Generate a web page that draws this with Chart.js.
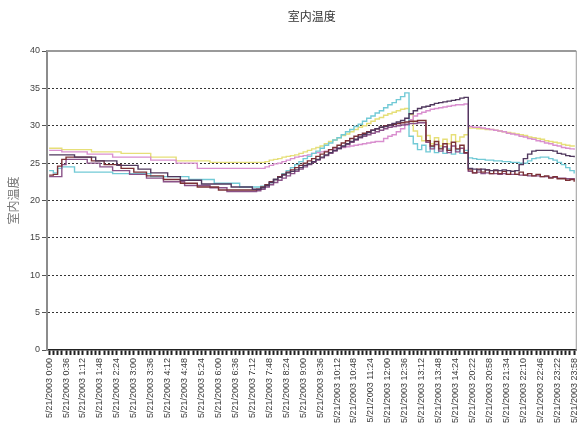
<!DOCTYPE html>
<html><head><meta charset="utf-8">
<script src="https://cdn.jsdelivr.net/npm/chart.js@4.4.1/dist/chart.umd.min.js"></script>
<style>html,body{margin:0;padding:0;background:#fff;overflow:hidden}canvas{display:block}</style>
</head><body>
<canvas id="c" width="588" height="428"></canvas>
<script>
const chartTitle = '室内温度';
const yAxisTitle = '室内温度';
const tickLabels = [
  '5/21/2003 0:00','5/21/2003 0:36','5/21/2003 1:12','5/21/2003 1:48','5/21/2003 2:24','5/21/2003 3:00',
  '5/21/2003 3:36','5/21/2003 4:12','5/21/2003 4:48','5/21/2003 5:24','5/21/2003 6:00','5/21/2003 6:36',
  '5/21/2003 7:12','5/21/2003 7:48','5/21/2003 8:24','5/21/2003 9:00','5/21/2003 9:36','5/21/2003 10:12',
  '5/21/2003 10:48','5/21/2003 11:24','5/21/2003 12:00','5/21/2003 12:36','5/21/2003 13:12','5/21/2003 13:48',
  '5/21/2003 14:24','5/21/2003 20:22','5/21/2003 20:58','5/21/2003 21:34','5/21/2003 22:10','5/21/2003 22:46',
  '5/21/2003 23:22','5/21/2003 23:58'
];
const pointsPerTick = 4;

const seriesNavy = [
  26.1,26.1,26.1,26.1,26.1,26.1,25.8,25.8,25.8,25.8,25.8,25.3,25.3,25.3,25.3,25.3,
  24.7,24.7,24.7,24.7,24.7,24.2,24.2,24.2,23.7,23.7,23.7,23.7,23.2,23.2,23.2,
  22.7,22.7,22.7,22.7,22.7,22.2,22.2,22.2,22.2,22.2,22.2,22.2,21.8,21.8,21.8,21.8,21.8,21.5,21.5,
  21.7,22.0,22.4,22.8,23.1,23.4,23.7,23.9,24.1,24.4,24.7,24.9,25.2,25.5,25.8,26.1,26.4,26.7,27.0,27.3,
  27.6,27.9,28.2,28.5,28.8,29.1,29.4,29.6,29.8,29.9,30.1,30.3,30.5,30.7,31.0,31.6,32.0,32.3,32.5,32.6,
  32.8,33.0,33.1,33.2,33.3,33.4,33.5,33.7,33.8,
  24.3,24.2,24.1,24.2,24.1,24.0,24.1,24.0,24.1,24.0,23.9,24.0,24.8,25.6,26.2,26.6,26.7,26.7,26.7,26.7,
  26.6,26.3,26.2,26.0,25.9,25.8
];
const seriesPink = [
  26.7,26.7,26.7,26.5,26.5,26.5,26.5,26.5,26.5,26.2,26.2,26.2,26.2,26.2,26.2,
  25.8,25.8,25.8,25.8,25.8,25.8,25.8,25.8,25.8,25.4,25.4,25.4,25.4,25.4,25.4,
  25.0,25.0,25.0,25.0,25.0,
  24.3,24.3,24.3,24.3,24.3,24.3,24.3,24.3,24.3,24.3,24.3,24.3,24.3,24.3,24.3,24.3,
  24.5,24.7,24.9,25.0,25.2,25.4,25.6,25.8,25.9,26.0,26.1,26.3,26.4,26.5,26.6,26.8,26.9,27.0,27.1,27.2,
  27.3,27.4,27.5,27.6,27.7,27.8,27.9,27.9,28.3,28.6,28.8,29.2,29.6,30.1,30.8,31.3,31.6,31.8,32.0,32.2,
  32.3,32.4,32.5,32.6,32.7,32.8,32.8,32.9,
  29.9,29.8,29.8,29.7,29.6,29.5,29.4,29.3,29.2,29.0,28.9,28.8,28.6,28.5,28.3,28.2,28.0,27.9,27.7,27.6,
  27.4,27.3,27.1,27.0,26.9,26.8
];
const seriesYellow = [
  27.0,27.0,27.0,26.8,26.8,26.8,26.8,26.8,26.8,26.8,26.5,26.5,26.5,26.5,26.5,26.5,26.5,
  26.3,26.3,26.3,26.3,26.3,26.3,26.3,25.8,25.8,25.8,25.8,25.8,25.8,
  25.3,25.3,25.3,25.3,25.3,25.3,25.3,25.3,
  25.1,25.1,25.1,25.1,25.1,25.1,25.1,25.1,25.1,25.1,25.1,25.1,25.1,
  25.2,25.4,25.5,25.6,25.8,25.9,26.0,26.1,26.3,26.5,26.7,26.9,27.1,27.3,27.6,27.9,28.1,28.4,28.7,28.9,
  29.2,29.5,29.8,30.0,30.3,30.6,30.9,31.1,31.4,31.6,31.8,32.0,32.2,32.3,
  31.5,29.3,28.6,28.0,28.7,27.6,28.4,27.3,28.2,27.6,28.8,27.9,28.5,28.8,
  29.7,29.7,29.6,29.6,29.5,29.5,29.4,29.3,29.2,29.1,29.0,28.9,28.8,28.7,28.5,28.4,28.3,28.2,28.0,27.9,
  27.8,27.7,27.5,27.4,27.3,27.2
];
const seriesCyan = [
  24.0,23.7,24.3,24.5,24.5,24.5,23.8,23.8,23.8,23.8,23.8,23.8,23.8,23.8,23.8,
  23.6,23.6,23.6,23.6,23.6,23.6,23.6,23.6,23.6,23.2,23.2,23.2,23.2,23.2,23.2,23.2,23.2,23.2,
  22.8,22.8,22.8,22.8,22.8,22.8,22.3,22.3,22.3,22.3,22.3,22.3,21.8,21.8,21.8,21.8,21.8,
  21.9,22.1,22.4,22.8,23.2,23.6,24.0,24.4,24.8,25.2,25.6,25.9,26.3,26.6,27.0,27.4,27.7,28.1,28.4,28.8,
  29.2,29.5,29.9,30.2,30.6,31.0,31.3,31.7,32.0,32.4,32.8,33.1,33.5,33.9,34.4,
  28.6,27.6,26.8,27.4,26.5,27.2,26.4,27.0,26.3,26.9,26.2,26.8,26.3,26.7,
  25.7,25.6,25.5,25.5,25.4,25.4,25.3,25.3,25.2,25.2,25.1,25.1,25.0,25.0,25.3,25.6,25.7,25.8,25.8,25.6,
  25.4,25.1,24.8,24.4,24.0,23.6
];
const seriesPurple = [
  23.2,23.2,23.2,24.8,25.5,25.5,25.5,25.5,25.5,25.0,25.0,25.0,24.5,24.5,24.5,
  24.0,24.0,24.0,24.0,23.5,23.5,23.5,23.5,23.0,23.0,23.0,23.0,22.5,22.5,22.5,22.5,22.5,
  22.0,22.0,22.0,22.0,22.0,22.0,21.7,21.7,21.7,21.7,21.2,21.2,21.2,21.2,21.2,21.2,21.2,
  21.3,21.5,21.8,22.1,22.4,22.7,23.0,23.3,23.6,23.9,24.2,24.5,24.8,25.1,25.4,25.7,26.0,26.3,26.6,26.9,
  27.2,27.5,27.8,28.1,28.4,28.6,28.8,29.0,29.2,29.4,29.6,29.8,29.9,30.0,30.1,30.2,30.3,30.3,30.4,30.4,
  27.8,26.9,27.5,26.6,27.2,26.4,27.3,26.5,27.0,26.3,
  23.9,23.7,23.8,23.6,23.7,23.6,23.6,23.5,23.6,23.5,23.5,23.5,23.4,23.4,23.3,23.3,23.3,23.2,23.2,23.1,
  23.1,23.0,23.0,22.9,22.9,22.8
];
const seriesMaroon = [
  23.4,23.5,24.6,25.5,25.8,25.8,25.8,25.8,25.8,25.8,25.3,25.3,25.3,24.8,24.8,24.8,24.8,
  24.3,24.3,24.3,23.8,23.8,23.8,23.3,23.3,23.3,23.3,22.8,22.8,22.8,22.8,22.3,22.3,22.3,22.3,
  21.8,21.8,21.8,21.8,21.8,21.4,21.4,21.4,21.4,21.4,21.4,21.4,21.4,21.4,
  21.5,21.8,22.1,22.5,22.8,23.2,23.5,23.8,24.1,24.4,24.7,25.0,25.3,25.6,25.9,26.2,26.5,26.8,27.1,27.4,
  27.7,28.0,28.3,28.6,28.8,29.0,29.2,29.4,29.6,29.8,30.0,30.1,30.2,30.3,30.4,30.5,30.6,30.6,30.7,30.7,
  28.0,27.3,27.9,26.9,27.6,26.7,27.8,26.9,27.4,26.4,
  24.1,23.7,24.2,23.8,24.1,23.6,24.0,23.6,23.9,23.5,23.9,23.5,23.8,23.4,23.6,23.3,23.5,23.2,23.3,23.0,
  23.2,22.9,22.9,22.7,22.8,22.5
];

const categories = [];
for (let i = 0; i < seriesNavy.length; i++) {
  categories.push(i % pointsPerTick === 0 ? tickLabels[i / pointsPerTick] : '');
}

const framePlugin = {
  id: 'frame',
  beforeDatasetsDraw(chart) {
    const {ctx, chartArea: a} = chart;
    ctx.save();
    ctx.strokeStyle = '#9a9a9a';
    ctx.lineWidth = 2;
    ctx.beginPath(); ctx.moveTo(a.left, a.top); ctx.lineTo(a.right, a.top); ctx.stroke();
    ctx.lineWidth = 1;
    ctx.beginPath(); ctx.moveTo(a.right, a.top); ctx.lineTo(a.right, a.bottom); ctx.stroke();
    ctx.restore();
  }
};

const latin = "'Liberation Sans', Arial, sans-serif";
const cjk = "'Noto Sans CJK SC', sans-serif";

new Chart(document.getElementById('c'), {
  type: 'line',
  data: {
    labels: categories,
    datasets: [
      {data: seriesNavy, borderColor: '#50385e', order: 1},
      {data: seriesPink, borderColor: '#d98fcf', order: 5},
      {data: seriesYellow, borderColor: '#e6df78', order: 6},
      {data: seriesCyan, borderColor: '#72cad6', order: 4},
      {data: seriesPurple, borderColor: '#8a5288', order: 3},
      {data: seriesMaroon, borderColor: '#7b3036', order: 2}
    ]
  },
  options: {
    responsive: false,
    animation: false,
    layout: {padding: {left: 0, right: 2, top: 0, bottom: 0}},
    elements: {point: {radius: 0}, line: {borderWidth: 1.4, tension: 0, stepped: true}},
    plugins: {
      legend: {display: false},
      tooltip: {enabled: false},
      title: {
        display: true, text: chartTitle, color: '#333', fullSize: false,
        font: {family: cjk, size: 12, weight: 'normal'},
        padding: {top: 9, bottom: 27.6}
      }
    },
    scales: {
      x: {
        type: 'category',
        offset: true,
        grid: {display: true, drawOnChartArea: false, drawTicks: true, tickLength: 5, tickWidth: 2, tickColor: '#222', color: '#222'},
        border: {display: true, color: '#222', width: 1.5},
        ticks: {
          autoSkip: false, maxRotation: 90, minRotation: 90, padding: 3, color: '#3a3a3a',
          font: {family: latin, size: 9},
          callback(v) { return this.getLabelForValue(v); }
        },
        afterFit(scale) { scale.height = 78; }
      },
      y: {
        min: 0, max: 40,
        ticks: {stepSize: 5, padding: 2, color: '#444', font: {family: latin, size: 9}},
        grid: {
          color: (c) => (c.tick && (c.tick.value === 0 || c.tick.value === 40)) ? 'rgba(0,0,0,0)' : '#333',
          tickColor: '#555', tickLength: 5, lineWidth: 1
        },
        border: {color: '#8c8c8c', width: 2, dash: [2, 2]},
        title: {display: true, text: yAxisTitle, color: '#777', font: {family: cjk, size: 12}, padding: {top: 6, bottom: 0}},
        afterFit(scale) { scale.width = 47; }
      }
    }
  },
  plugins: [framePlugin]
});
</script>
</body></html>
